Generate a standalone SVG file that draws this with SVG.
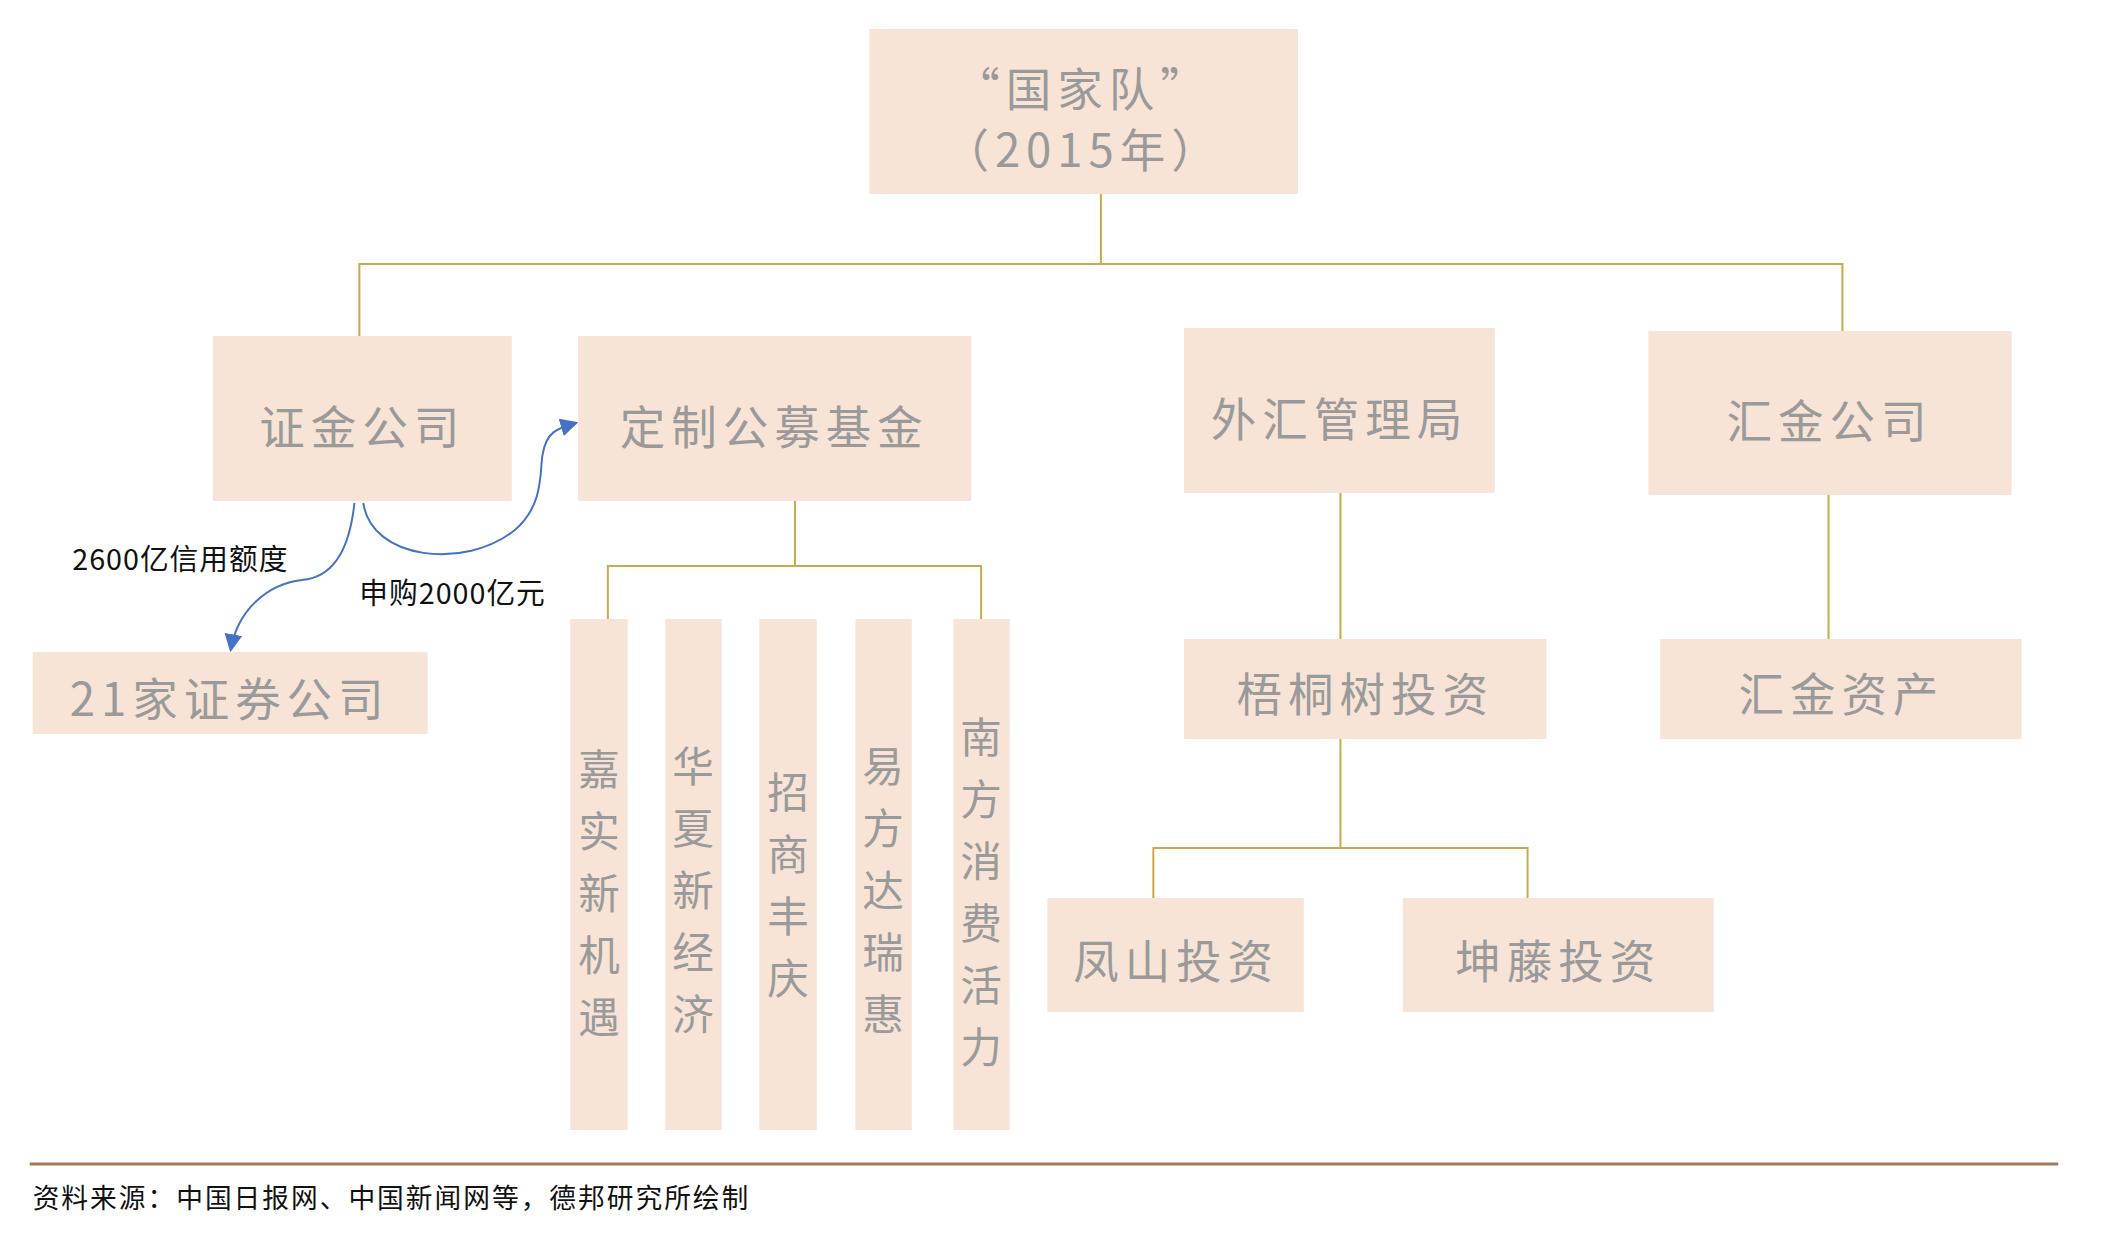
<svg xmlns="http://www.w3.org/2000/svg" width="2102" height="1236" viewBox="0 0 2102 1236">
<style>
.b{fill:#f7e4d6}
.t{font-family:"Noto Sans CJK SC","Liberation Sans",sans-serif;fill:#9a9a9a;font-size:46px;text-anchor:middle;dominant-baseline:central;letter-spacing:6px}
.v{font-family:"Noto Sans CJK SC",sans-serif;fill:#9a9a9a;font-size:42px;text-anchor:middle;dominant-baseline:central}
.l{fill:none;stroke:#c9a94a;stroke-width:2}
.a{fill:none;stroke:#4472c4;stroke-width:2}
.k{font-family:"Noto Sans CJK SC",sans-serif;fill:#111;font-size:29px;letter-spacing:1px}
</style>
<defs><marker id="m" markerWidth="18" markerHeight="18" refX="14" refY="8" orient="auto" markerUnits="userSpaceOnUse" viewBox="0 0 16 16"><path d="M0,0L16,8L0,16z" fill="#4472c4"/></marker></defs>
<g transform="matrix(0.99 0 0 1 0 0)">
<g id="connectors">
<path class="l" d="M1112,194V264M363,336V264H1861V331"/>
<path class="l" d="M803,501V566M614,619V566H991V619"/>
<path class="l" d="M1354,493V639M1847,495V639"/>
<path class="l" d="M1354,739V848M1165,898V848H1543V898"/>
<path class="a" d="M358,503C352,560 330,578 305,580C270,584 240,610 233,650" marker-end="url(#m)"/>
<path class="a" d="M367,503C375,560 470,570 520,530C550,505 545,470 548,455C552,430 565,428 582,423" marker-end="url(#m)"/>
</g>
<g id="n0"><rect class="b" x="878" y="29" width="433" height="165"/><text class="t" x="1094" y="86">“国家队”</text><text class="t" x="1094" y="147">（2015年）</text></g>
<g id="n1"><rect class="b" x="215" y="336" width="302" height="165"/><text class="t" x="366" y="424">证金公司</text></g>
<g id="n2"><rect class="b" x="584" y="336" width="397" height="165"/><text class="t" x="782" y="424">定制公募基金</text></g>
<g id="n3"><rect class="b" x="1196" y="328" width="314" height="165"/><text class="t" x="1353" y="416">外汇管理局</text></g>
<g id="n4"><rect class="b" x="1665" y="331" width="367" height="164"/><text class="t" x="1848" y="418">汇金公司</text></g>
<g id="n5"><rect class="b" x="33" y="652" width="399" height="82"/><text class="t" x="232" y="696">21家证券公司</text></g>
<g id="n6"><rect class="b" x="1196" y="639" width="366" height="100"/><text class="t" x="1379" y="691">梧桐树投资</text></g>
<g id="n7"><rect class="b" x="1677" y="639" width="365" height="100"/><text class="t" x="1860" y="691">汇金资产</text></g>
<g id="n8"><rect class="b" x="1058" y="898" width="259" height="114"/><text class="t" x="1188" y="958">凤山投资</text></g>
<g id="n9"><rect class="b" x="1417" y="898" width="314" height="114"/><text class="t" x="1574" y="958">坤藤投资</text></g>
<g id="f1"><rect class="b" x="576" y="619" width="58" height="511"/><text class="v" x="605" y="767">嘉</text><text class="v" x="605" y="829">实</text><text class="v" x="605" y="891">新</text><text class="v" x="605" y="953">机</text><text class="v" x="605" y="1015">遇</text></g>
<g id="f2"><rect class="b" x="672" y="619" width="57" height="511"/><text class="v" x="700" y="764">华</text><text class="v" x="700" y="826">夏</text><text class="v" x="700" y="888">新</text><text class="v" x="700" y="950">经</text><text class="v" x="700" y="1012">济</text></g>
<g id="f3"><rect class="b" x="767" y="619" width="58" height="511"/><text class="v" x="796" y="790">招</text><text class="v" x="796" y="852">商</text><text class="v" x="796" y="914">丰</text><text class="v" x="796" y="976">庆</text></g>
<g id="f4"><rect class="b" x="864" y="619" width="57" height="511"/><text class="v" x="892" y="764">易</text><text class="v" x="892" y="826">方</text><text class="v" x="892" y="888">达</text><text class="v" x="892" y="950">瑞</text><text class="v" x="892" y="1012">惠</text></g>
<g id="f5"><rect class="b" x="963" y="619" width="57" height="511"/><text class="v" x="991" y="735">南</text><text class="v" x="991" y="797">方</text><text class="v" x="991" y="859">消</text><text class="v" x="991" y="921">费</text><text class="v" x="991" y="983">活</text><text class="v" x="991" y="1045">力</text></g>
<text class="k" x="73" y="570">2600亿信用额度</text>
<text class="k" x="363" y="604">申购2000亿元</text>
<line x1="30" y1="1164" x2="2079" y2="1164" stroke="#a0785a" stroke-width="3"/>
<text x="33" y="1208" style="font-family:'Noto Sans CJK SC',sans-serif;font-size:27px;letter-spacing:2px;fill:#111">资料来源：中国日报网、中国新闻网等，德邦研究所绘制</text>
</g>
</svg>
